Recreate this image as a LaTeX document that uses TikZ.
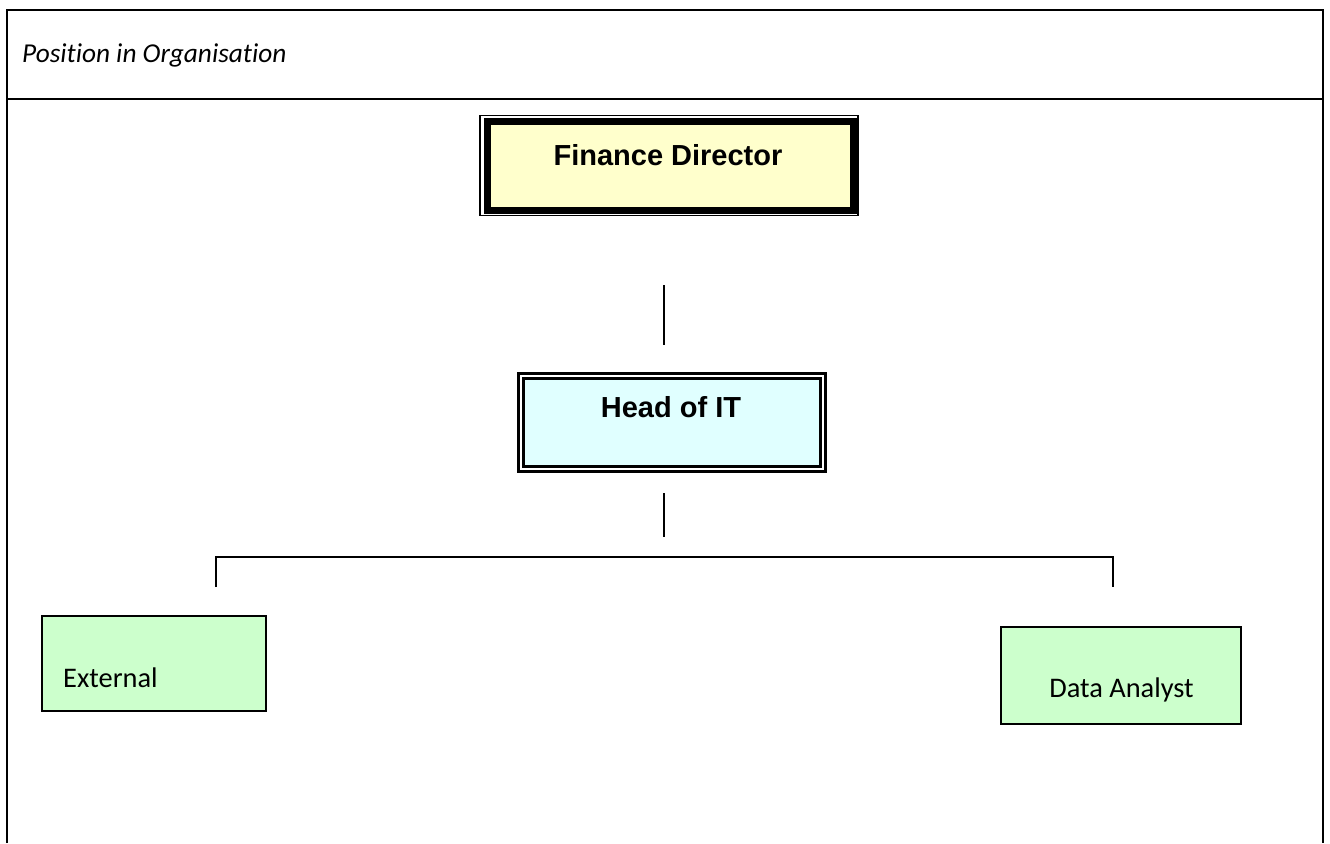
\documentclass[tikz,border=0pt]{standalone}
\usepackage{fontspec}
\setmainfont{Carlito}[Ligatures=NoCommon]
\newfontfamily\arialfont{Liberation Sans}
\begin{document}
\begin{tikzpicture}[x=1pt,y=-1pt,
  frame/.style={line width=2pt},
  conn/.style={line width=1.6pt},
  fdbox/.style={draw=black, line width=7pt, fill=yellowbox, minimum width=366pt, minimum height=89pt, outer sep=0pt, inner sep=0pt},
  itbox/.style={draw=black, line width=3pt, double=white, double distance=2pt, fill=cyanbox, minimum width=302pt, minimum height=93pt, outer sep=0pt, inner sep=0pt},
  staffbox/.style={draw=black, line width=2pt, fill=greenbox, outer sep=0pt, inner sep=0pt},
  boldlabel/.style={font=\arialfont\bfseries\fontsize{29}{32}\selectfont, anchor=base, inner sep=0pt},
  stafflabel/.style={font=\fontsize{28.4}{30}\selectfont, anchor=base, inner sep=0pt}]
\definecolor{yellowbox}{HTML}{FFFFCC}
\definecolor{cyanbox}{HTML}{E0FFFF}
\definecolor{greenbox}{HTML}{CCFFCC}
\useasboundingbox (0,0) rectangle (1330,843);
% frame
\draw[frame] (7,843) -- (7,10) -- (1323,10) -- (1323,843);
\draw[frame] (7,99) -- (1323,99);
\node[anchor=base west, inner sep=0pt, font=\itshape\fontsize{27.3}{30}\selectfont] (title) at (22,63) {Position in Organisation};
% Finance Director
\node[fdbox] (fd) at (670,166) {};
\draw[line width=1.5pt] ([shift={(-7,-6)}]fd.north west) rectangle ([shift={(5,5)}]fd.south east);
\node[boldlabel] (fdt) at (668,165) {Finance Director};
% Head of IT
\node[itbox] (it) at (672,422.5) {};
\node[boldlabel] (itt) at (671,417) {Head of IT};
% staff boxes
\node[staffbox, minimum width=224pt, minimum height=95pt] (ext) at (154,663.5) {};
\node[stafflabel, anchor=base west] (extt) at (63,687) {External};
\node[staffbox, minimum width=240pt, minimum height=97pt] (da) at (1121,675.5) {};
\node[stafflabel] (dat) at (1121.5,697) {Data Analyst};
% connectors
\coordinate (c1a) at (664,285);
\coordinate (c1b) at (664,345);
\coordinate (c2a) at (664,493);
\coordinate (c2b) at (664,537);
\coordinate (bl) at (216,587);
\coordinate (blt) at (216,557);
\coordinate (brt) at (1113,557);
\coordinate (br) at (1113,587);
\draw[conn] (c1a) -- (c1b);
\draw[conn] (c2a) -- (c2b);
\draw[conn] (bl) -- (blt) -- (brt) -- (br);
\end{tikzpicture}
\end{document}
